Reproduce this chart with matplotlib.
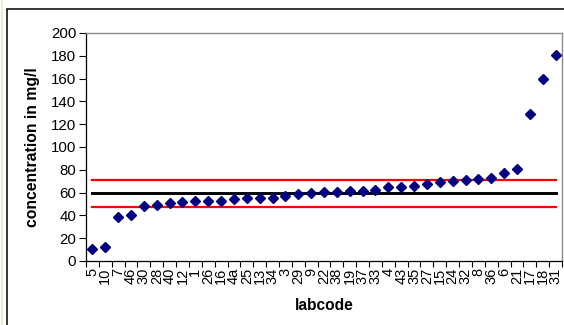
import matplotlib
matplotlib.use("Agg")
import matplotlib.pyplot as plt
from matplotlib.patches import Rectangle
import numpy as np

plt.rcParams['font.family'] = ['Liberation Sans', 'DejaVu Sans']

labcodes = ['5', '10', '7', '46', '30', '28', '40', '12', '1', '26', '16', '4a', '25',
            '13', '34', '3', '29', '9', '22', '38', '19', '37', '33', '4', '43', '35',
            '27', '15', '24', '32', '8', '36', '6', '21', '17', '18', '31']
values = [10.2, 12.0, 38.9, 40.4, 48.6, 49.5, 50.7, 51.6, 52.7, 52.7, 52.7, 54.5, 55.6,
          55.6, 55.6, 56.8, 58.6, 59.7, 60.8, 60.9, 61.8, 61.8, 62.7, 65.0, 65.0, 66.2,
          67.3, 69.1, 70.3, 71.1, 72.0, 73.2, 77.6, 80.8, 129.1, 159.3, 180.9]
mean_value = 59.5
upper_limit = 71.2
lower_limit = 47.5
yticks = list(range(0, 201, 20))

W, H = 564, 325
fig = plt.figure(figsize=(W / 100, H / 100), dpi=100)
fig.patch.set_facecolor('white')

# outer chart frame
fig.patches.append(Rectangle((7 / W, -0.05), 1.1, 1 - 9 / H + 0.05, transform=fig.transFigure,
                             fill=False, edgecolor='black', linewidth=1.1, zorder=0))
fig.patches.append(Rectangle((1.5 / W, -0.05), 0, 1.1, transform=fig.transFigure,
                             fill=False, edgecolor='#e4efd8', linewidth=1.2, zorder=0))

ax = fig.add_axes([86 / W, 1 - 261 / H, (562 - 86) / W, (261 - 33) / H])
x = np.arange(len(labcodes))

ax.plot([x[0], x[-1]], [upper_limit, upper_limit], color='#ff0000', lw=1.6, zorder=2)
ax.plot([x[0], x[-1]], [lower_limit, lower_limit], color='#ff0000', lw=1.6, zorder=2)
ax.plot([x[0], x[-1]], [mean_value, mean_value], color='black', lw=2.1, zorder=2)
ax.plot(x, values, linestyle='none', marker='D', markersize=4.9, color='#000080', zorder=3)

ax.set_xlim(-0.5, len(labcodes) - 0.5)
ax.set_ylim(0, 200)
ax.set_yticks(yticks)
ax.set_xticks(x)
ax.set_xticklabels(labcodes, rotation=90, fontsize=10.5)
ax.set_xticks(np.arange(-0.5, len(labcodes), 1.0), minor=True)
ax.tick_params(axis='x', which='major', length=0, pad=5)
ax.tick_params(axis='x', which='minor', length=4, width=0.8, direction='out', color='black')
ax.tick_params(axis='y', which='major', length=5, width=0.8, direction='out', labelsize=10.8, pad=2)

for s in ['top', 'right']:
    ax.spines[s].set_color('#8c8c8c')
    ax.spines[s].set_linewidth(1.0)
for s in ['left', 'bottom']:
    ax.spines[s].set_color('black')
    ax.spines[s].set_linewidth(0.9)

ax.set_ylabel('concentration in mg/l', fontsize=11.3, fontweight='bold')
ax.yaxis.set_label_coords(-(86 - 33) / (562 - 86), 0.5)
ax.set_xlabel('labcode', fontsize=11.2, fontweight='bold')
ax.xaxis.set_label_coords(0.5, -(305 - 261) / (261 - 33))
ax.xaxis.label.set_verticalalignment('center')
ax.yaxis.label.set_verticalalignment('center')

fig.savefig('out.png', dpi=100)
